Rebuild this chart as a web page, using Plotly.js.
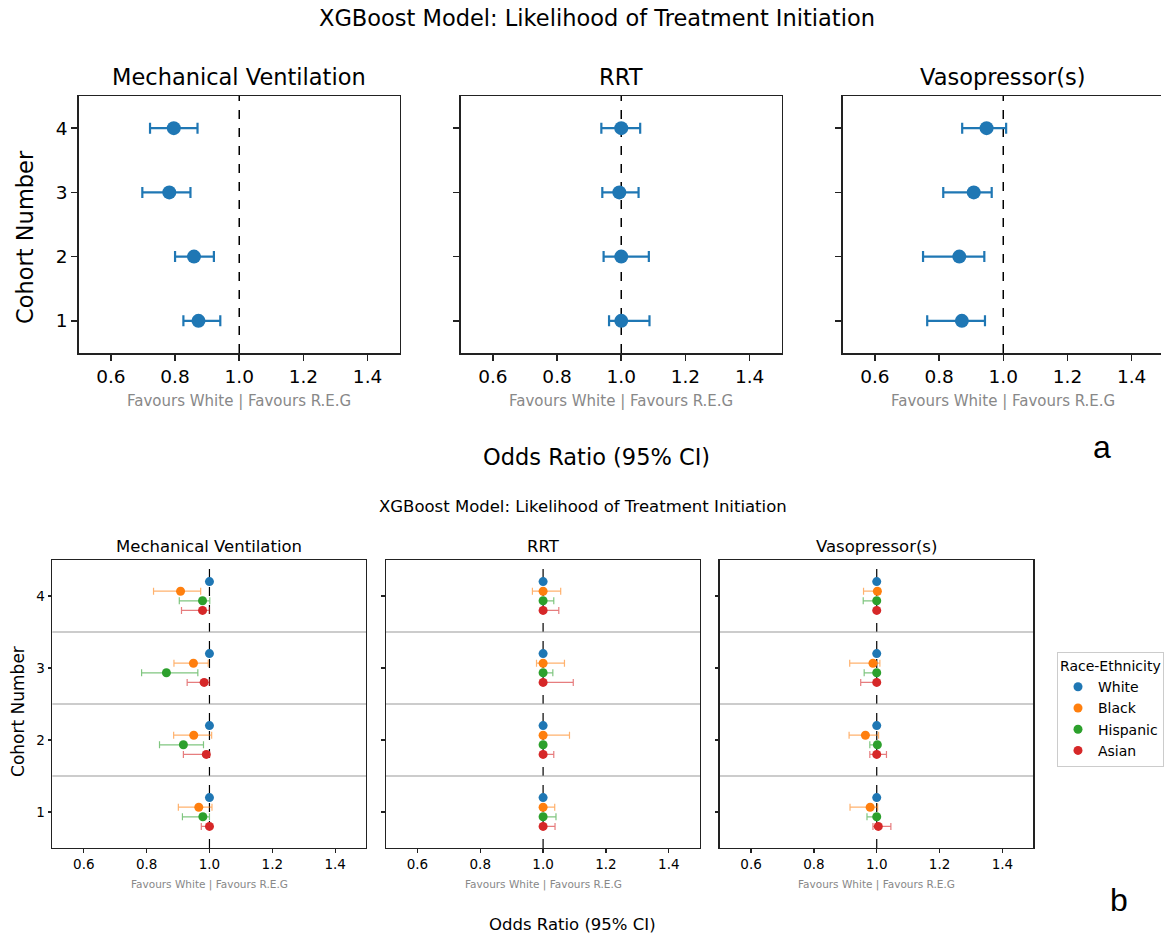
<!DOCTYPE html>
<html>
<head>
<meta charset="utf-8">
<script src="https://cdn.plot.ly/plotly-3.0.1.min.js"></script>
<style>html,body{margin:0;padding:0;background:#fff;}#chart{width:1164px;height:934px;}</style>
</head>
<body>
<div id="chart"></div>
<script>
// ---------- DATA ----------
const treatments = ["Mechanical Ventilation", "RRT", "Vasopressor(s)"];
const cohorts = [1, 2, 3, 4];

// Panel a: overall odds ratios (cohorts 1..4)
const aOR   = { "Mechanical Ventilation": [0.873, 0.859, 0.782, 0.796],
                "RRT":                    [1.000, 1.000, 0.994, 1.000],
                "Vasopressor(s)":         [0.871, 0.863, 0.908, 0.948] };
const aLow  = { "Mechanical Ventilation": [0.826, 0.800, 0.698, 0.722],
                "RRT":                    [0.962, 0.945, 0.941, 0.938],
                "Vasopressor(s)":         [0.763, 0.750, 0.813, 0.872] };
const aHigh = { "Mechanical Ventilation": [0.941, 0.921, 0.848, 0.870],
                "RRT":                    [1.088, 1.086, 1.054, 1.059],
                "Vasopressor(s)":         [0.943, 0.941, 0.964, 1.009] };

// Panel b: by race-ethnicity (cohorts 1..4)
const groups = ["White", "Black", "Hispanic", "Asian"];
const groupOffsets = [0.2, 0.0667, -0.0667, -0.2];
const groupColors = ["#1f77b4", "#ff7f0e", "#2ca02c", "#d62728"];
const groupBarColors = ["rgba(31,119,180,0.6)", "rgba(255,127,14,0.6)", "rgba(44,160,44,0.6)", "rgba(214,39,40,0.6)"];

const bOR = {
  "Mechanical Ventilation": { White:[1,1,1,1], Black:[0.966,0.950,0.949,0.908], Hispanic:[0.979,0.917,0.863,0.978], Asian:[1.000,0.990,0.983,0.978] },
  "RRT":                    { White:[1,1,1,1], Black:[1.000,1.000,1.000,1.000], Hispanic:[1.000,1.000,1.000,1.000], Asian:[1.000,1.000,1.000,1.000] },
  "Vasopressor(s)":         { White:[1,1,1,1], Black:[0.979,0.964,0.988,1.002], Hispanic:[1.000,1.002,1.000,1.000], Asian:[1.005,1.000,1.000,1.000] }
};
const bLow = {
  "Mechanical Ventilation": { White:[1,1,1,1], Black:[0.901,0.886,0.887,0.822], Hispanic:[0.914,0.841,0.784,0.904], Asian:[0.974,0.917,0.929,0.911] },
  "RRT":                    { White:[1,1,1,1], Black:[1.000,1.000,0.979,0.966], Hispanic:[1.000,1.000,1.000,1.000], Asian:[1.000,1.000,1.000,1.000] },
  "Vasopressor(s)":         { White:[1,1,1,1], Black:[0.915,0.912,0.914,0.958], Hispanic:[0.969,0.978,0.960,0.957], Asian:[0.988,0.978,0.949,1.000] }
};
const bHigh = {
  "Mechanical Ventilation": { White:[1,1,1,1], Black:[1.008,1.007,0.996,0.972], Hispanic:[1.000,0.981,0.963,1.001], Asian:[1.002,1.000,1.000,1.000] },
  "RRT":                    { White:[1,1,1,1], Black:[1.037,1.084,1.068,1.056], Hispanic:[1.041,1.004,1.031,1.034], Asian:[1.038,1.034,1.096,1.050] },
  "Vasopressor(s)":         { White:[1,1,1,1], Black:[1.003,1.006,1.010,1.012], Hispanic:[1.000,1.008,1.000,1.000], Asian:[1.045,1.031,1.000,1.000] }
};

const xTicks = [0.6, 0.8, 1.0, 1.2, 1.4];
const xTickText = ["0.6", "0.8", "1.0", "1.2", "1.4"];
const yTicks = [1, 2, 3, 4];
const separators = [1.5, 2.5, 3.5];

const mainTitle = "XGBoost Model: Likelihood of Treatment Initiation";
const favText = "Favours White | Favours R.E.G";
const xLabel = "Odds Ratio (95% CI)";
const yLabel = "Cohort Number";

// ---------- LAYOUT GEOMETRY ----------
const W = 1164, H = 934;
const px = v => v / W;
const py = v => 1 - v / H;
const FONT = "DejaVu Sans, sans-serif";

const topX = [[79, 401], [462, 784], [845, 1164]];
const topY = [96, 353];
const botX = [[52.5, 367], [387, 702], [721.5, 1036]];
const botY = [560, 848];

const traces = [];
const layout = {
  width: W, height: H,
  margin: {l: 0, r: 0, t: 0, b: 0},
  paper_bgcolor: "#fff", plot_bgcolor: "#fff",
  font: {family: FONT, color: "#000"},
  showlegend: true,
  legend: {
    x: px(1060), y: py(652), xanchor: "left", yanchor: "top",
    bordercolor: "#cccccc", borderwidth: 1, bgcolor: "#fff",
    font: {family: FONT, size: 14},
    title: {text: "Race-Ethnicity", font: {family: FONT, size: 14}},
    tracegroupgap: 0, itemwidth: 30
  },
  shapes: [], annotations: []
};

function addAxes(i, xr, yr, opts) {
  const xa = "xaxis" + (i === 1 ? "" : i), ya = "yaxis" + (i === 1 ? "" : i);
  const lw = opts.lw;
  layout[xa] = {
    domain: [px(xr[0]), px(xr[1])],
    range: [0.5, 0.5 + (xr[1] - xr[0]) / opts.pxPerUnit],
    anchor: "y" + i,
    tickvals: xTicks, ticktext: xTickText,
    ticks: "outside", ticklen: opts.ticklen, tickwidth: lw, tickcolor: "#222",
    showline: true, linecolor: "#222", linewidth: lw, mirror: true,
    showgrid: false, zeroline: false,
    tickfont: {family: FONT, size: opts.tickSize, color: "#000"}
  };
  layout[ya] = {
    domain: [py(yr[1]), py(yr[0])],
    range: [0.5, 4.5],
    anchor: "x" + i,
    tickvals: yTicks, ticktext: yTicks.map(String),
    showticklabels: opts.showY,
    ticks: "outside", ticklen: opts.ticklen, tickwidth: lw, tickcolor: "#222",
    showline: true, linecolor: "#222", linewidth: lw, mirror: opts.mirrorY,
    showgrid: false, zeroline: false,
    tickfont: {family: FONT, size: opts.tickSize, color: "#000"}
  };
  // dashed reference line at OR = 1
  layout.shapes.push({
    type: "line", xref: "x" + i, yref: "y" + i + " domain",
    x0: 1, x1: 1, y0: 0, y1: 1,
    line: {color: "#000", width: opts.lw, dash: "dash"}, layer: "below"
  });
}

// ---------- PANEL a ----------
treatments.forEach((t, k) => {
  const i = k + 1;
  addAxes(i, topX[k], topY, {pxPerUnit: 321.7, ticklen: 6, lw: 1.5, tickSize: 18.5, showY: k === 0, mirrorY: k !== 2});
  traces.push({
    type: "scatter", mode: "markers",
    x: aOR[t], y: cohorts,
    xaxis: "x" + i, yaxis: "y" + i,
    marker: {color: "#1f77b4", size: 14},
    error_x: {
      type: "data", symmetric: false,
      array: aHigh[t].map((h, j) => h - aOR[t][j]),
      arrayminus: aLow[t].map((l, j) => aOR[t][j] - l),
      color: "#1f77b4", thickness: 2.2, width: 5.5
    },
    showlegend: false, hoverinfo: "x+y"
  });
  layout.annotations.push({
    text: t, xref: "paper", yref: "paper",
    x: px((topX[k][0] + (k === 2 ? 1167 : topX[k][1])) / 2), y: py(77),
    xanchor: "center", yanchor: "middle", showarrow: false,
    font: {family: FONT, size: 22.5, color: "#000"}
  });
  layout.annotations.push({
    text: favText, xref: "paper", yref: "paper",
    x: px((topX[k][0] + (k === 2 ? 1167 : topX[k][1])) / 2), y: py(401),
    xanchor: "center", yanchor: "middle", showarrow: false,
    font: {family: FONT, size: 15, color: "#888888"}
  });
});

// ---------- PANEL b ----------
treatments.forEach((t, k) => {
  const i = k + 4;
  addAxes(i, botX[k], botY, {pxPerUnit: 315.0, ticklen: 3.5, lw: 1.2, tickSize: 13.5, showY: k === 0, mirrorY: true});
  separators.forEach(s => layout.shapes.push({
    type: "line", xref: "x" + i + " domain", yref: "y" + i,
    x0: 0, x1: 1, y0: s, y1: s,
    line: {color: "#999999", width: 1}, layer: "below"
  }));
  groups.forEach((g, gi) => {
    traces.push({
      type: "scatter", mode: "markers", name: g,
      legendgroup: g, showlegend: k === 0,
      x: bOR[t][g], y: cohorts.map(c => c + groupOffsets[gi]),
      xaxis: "x" + i, yaxis: "y" + i,
      marker: {color: groupColors[gi], size: 9},
      error_x: {
        type: "data", symmetric: false,
        array: bHigh[t][g].map((h, j) => h - bOR[t][g][j]),
        arrayminus: bLow[t][g].map((l, j) => bOR[t][g][j] - l),
        color: groupBarColors[gi], thickness: 1.2, width: 3.5
      },
      hoverinfo: "x+y+name"
    });
  });
  layout.annotations.push({
    text: t, xref: "paper", yref: "paper",
    x: px((botX[k][0] + botX[k][1]) / 2), y: py(546),
    xanchor: "center", yanchor: "middle", showarrow: false,
    font: {family: FONT, size: 16.5, color: "#000"}
  });
  layout.annotations.push({
    text: favText, xref: "paper", yref: "paper",
    x: px((botX[k][0] + botX[k][1]) / 2), y: py(884),
    xanchor: "center", yanchor: "middle", showarrow: false,
    font: {family: FONT, size: 10.5, color: "#888888"}
  });
});

// ---------- figure-level text ----------
const figText = [
  {text: mainTitle, x: 599, y: 18, size: 22.5},
  {text: xLabel, x: 598, y: 457, size: 22.5},
  {text: mainTitle, x: 585, y: 506, size: 16.5},
  {text: xLabel, x: 574, y: 924, size: 16.5}
];
figText.forEach(f => layout.annotations.push({
  text: f.text, xref: "paper", yref: "paper", x: px(f.x), y: py(f.y),
  xanchor: "center", yanchor: "middle", showarrow: false,
  font: {family: FONT, size: f.size, color: "#000"}
}));
layout.annotations.push({
  text: yLabel, xref: "paper", yref: "paper", x: px(25), y: py(237),
  xanchor: "center", yanchor: "middle", showarrow: false, textangle: -90,
  font: {family: FONT, size: 22.5, color: "#000"}
});
layout.annotations.push({
  text: yLabel, xref: "paper", yref: "paper", x: px(18), y: py(711),
  xanchor: "center", yanchor: "middle", showarrow: false, textangle: -90,
  font: {family: FONT, size: 17, color: "#000"}
});
layout.annotations.push({
  text: "a", xref: "paper", yref: "paper", x: px(1105), y: py(447),
  xanchor: "center", yanchor: "middle", showarrow: false,
  font: {family: "Liberation Sans, Arial, sans-serif", size: 32, color: "#000"}
});
layout.annotations.push({
  text: "b", xref: "paper", yref: "paper", x: px(1122), y: py(900),
  xanchor: "center", yanchor: "middle", showarrow: false,
  font: {family: "Liberation Sans, Arial, sans-serif", size: 32, color: "#000"}
});

Plotly.newPlot("chart", traces, layout, {displayModeBar: false, staticPlot: true});
</script>
</body>
</html>
